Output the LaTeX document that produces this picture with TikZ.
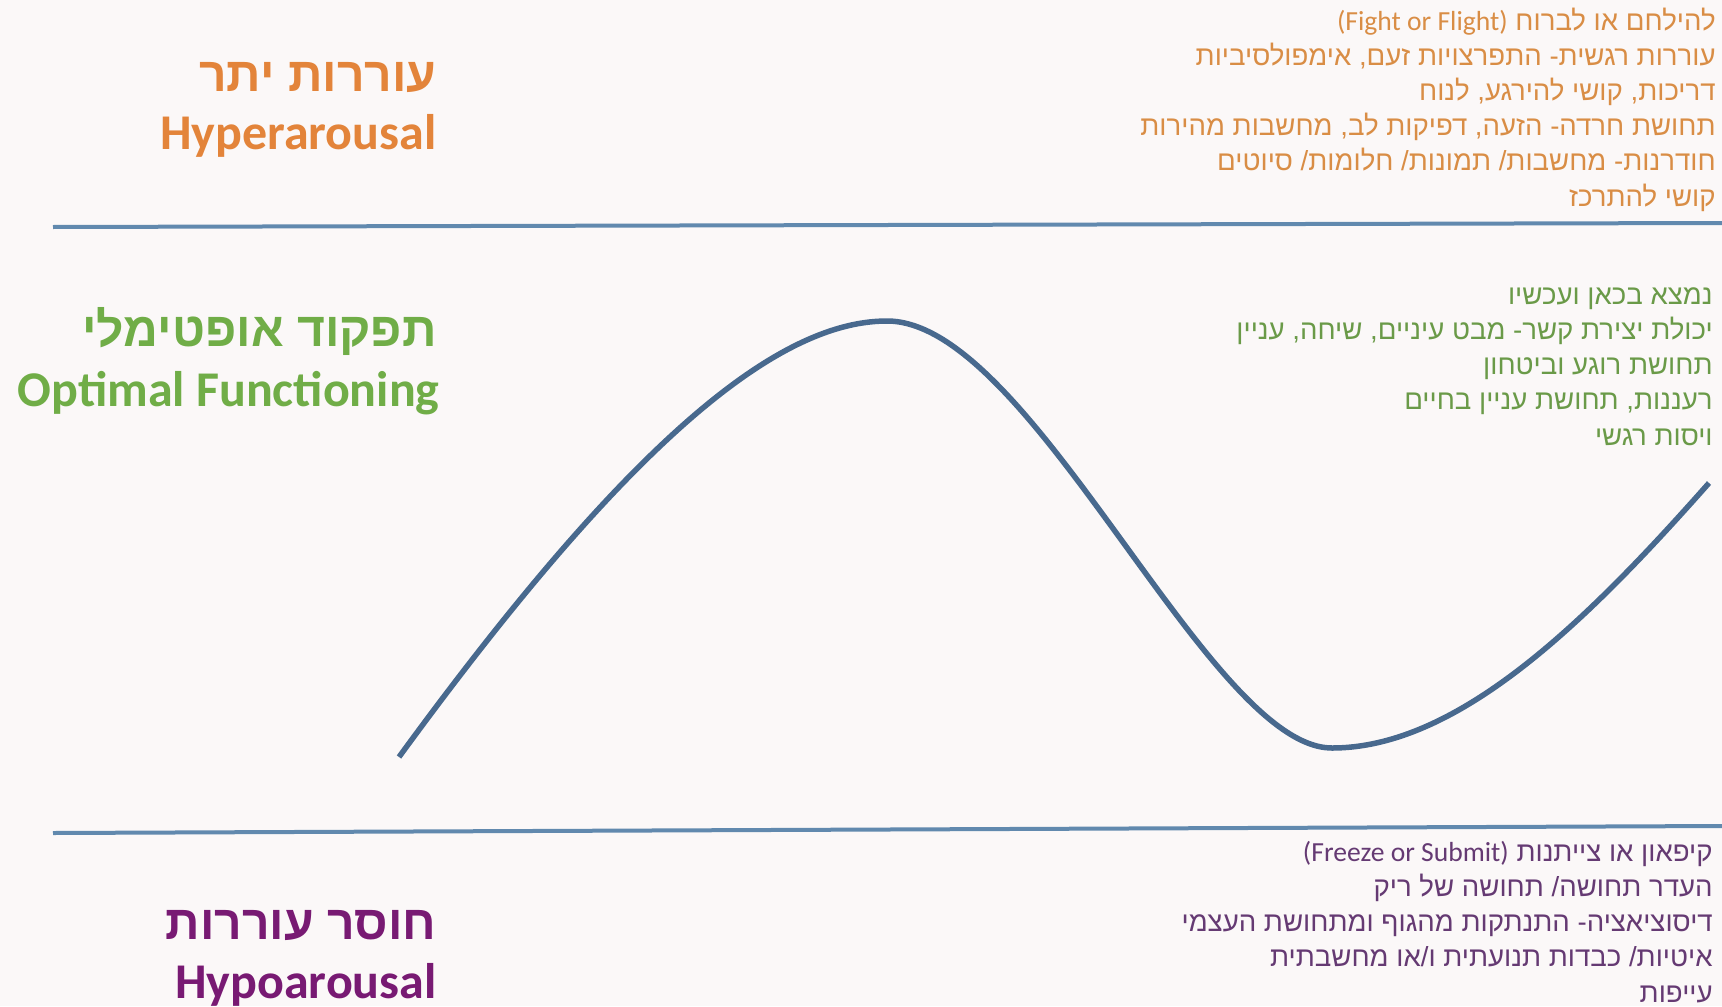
\documentclass[tikz,border=0pt]{standalone}
\usepackage{fontspec}
\setmainfont{Carlito}
\newfontfamily\hebfont[Script=Hebrew]{Liberation Sans}
\TeXXeTstate=1
\usetikzlibrary{positioning}
\definecolor{bgpaper}{HTML}{FBF8F8}
\definecolor{hyper}{HTML}{E3843A}
\definecolor{hypertext}{HTML}{D98D45}
\definecolor{optimal}{HTML}{70AD47}
\definecolor{optimaltext}{HTML}{6A9A48}
\definecolor{hypo}{HTML}{781A73}
\definecolor{hypotext}{HTML}{653A73}
\definecolor{border}{HTML}{6189AE}
\definecolor{wave}{HTML}{48698E}
\newcommand{\hebline}[1]{\beginR #1\endR}
\tikzset{
  zonetitle/.style={anchor=base east, inner sep=0pt, text=#1,
    font=\fontsize{25}{30}\selectfont\bfseries},
  zonehebtitle/.style={zonetitle=#1, font=\hebfont\fontsize{24}{28}\selectfont\bfseries},
  zonelist/.style={anchor=base east, inner sep=0pt, align=right, text=#1,
    font=\hebfont\fontsize{13.8}{17.6}\selectfont},
  bandline/.style={line width=2pt, draw=border},
  wavecurve/.style={line width=2.75pt, draw=wave}
}

\begin{document}
\begin{tikzpicture}[x=0.5pt, y=-0.5pt]
  \useasboundingbox (0,0) rectangle (1722,1006);
  \fill[bgpaper] (0,0) rectangle (1722,1006);

  % Zone borders
  \draw[bandline] (53,227) -- (1722,223);
  \draw[bandline] (53,833) -- (1722,826);

  % Titles
  \node[zonehebtitle=hyper] (hyperHe) at (437,91) {\hebline{עוררות יתר}};
  \node[zonetitle=hyper] (hyperEn) at (437,149) {Hyperarousal};
  \node[zonehebtitle=optimal] (optHe) at (437,346) {\hebline{תפקוד אופטימלי}};
  \node[zonetitle=optimal] (optEn) at (440,406) {Optimal Functioning};
  \node[zonehebtitle=hypo] (hypoHe) at (437,939) {\hebline{חוסר עוררות}};
  \node[zonetitle=hypo] (hypoEn) at (437,998) {Hypoarousal};

  % Symptom lists (anchored at the last line)
  \node[zonelist=hypertext] (hyperList) at (1716,206) {%
    \hebline{להילחם או לברוח \beginL{\normalfont\fontsize{13.8}{17.6}\selectfont(Fight or Flight)}\endL}\\
    \hebline{עוררות רגשית- התפרצויות זעם, אימפולסיביות}\\
    \hebline{דריכות, קושי להירגע, לנוח}\\
    \hebline{תחושת חרדה- הזעה, דפיקות לב, מחשבות מהירות}\\
    \hebline{חודרנות- מחשבות/ תמונות/ חלומות/ סיוטים}\\
    \hebline{קושי להתרכז}};
  \node[zonelist=optimaltext] (optList) at (1713,445) {%
    \hebline{נמצא בכאן ועכשיו}\\
    \hebline{יכולת יצירת קשר- מבט עיניים, שיחה,  עניין}\\
    \hebline{תחושת רוגע וביטחון}\\
    \hebline{רעננות, תחושת עניין בחיים}\\
    \hebline{ויסות רגשי}};
  \node[zonelist=hypotext] (hypoList) at (1713,1002) {%
    \hebline{קיפאון או צייתנות \beginL{\normalfont\fontsize{13.8}{17.6}\selectfont(Freeze or Submit)}\endL}\\
    \hebline{העדר תחושה/ תחושה של ריק}\\
    \hebline{דיסוציאציה- התנתקות מהגוף ומתחושת העצמי}\\
    \hebline{איטיות/ כבדות תנועתית ו/או מחשבתית}\\
    \hebline{עייפות}};

  % Window of tolerance curve
  \coordinate (start) at (399,757);
  \coordinate (peak) at (887,321);
  \coordinate (trough) at (1332,748);
  \coordinate (finish) at (1709,483);
  \draw[wavecurve] (start) .. controls (615,461) and (769,321) .. (peak)
    .. controls (1032,321) and (1208,748) .. (trough)
    .. controls (1461,748) and (1592,615) .. (finish);
\end{tikzpicture}
\end{document}
